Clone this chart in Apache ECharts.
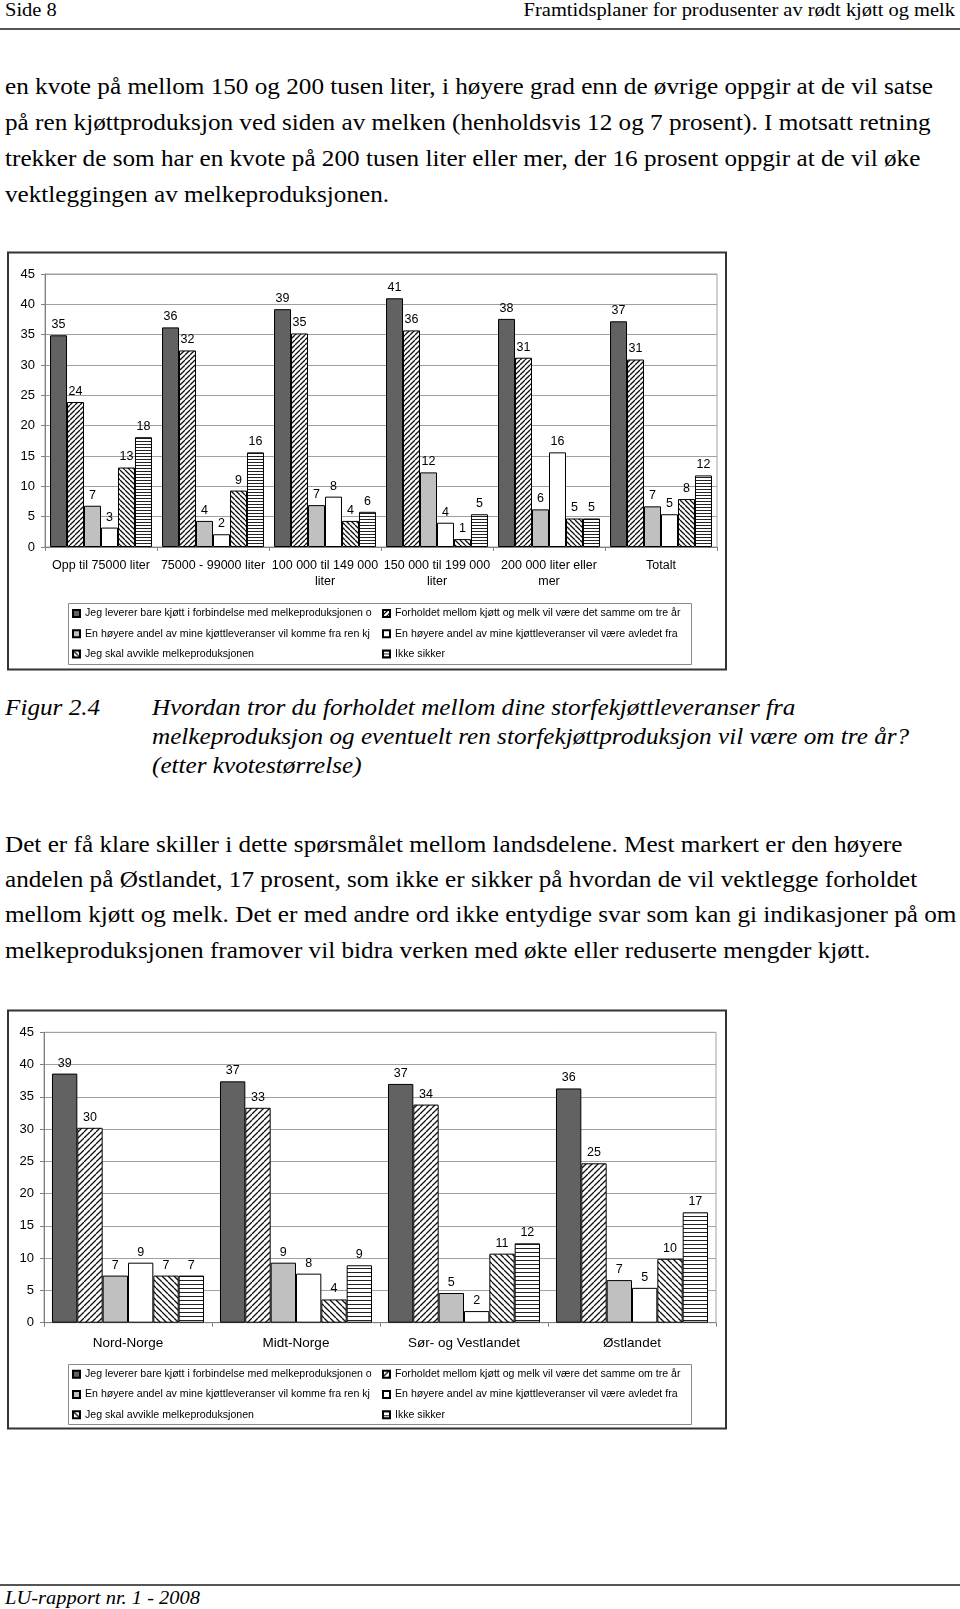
<!DOCTYPE html>
<html><head><meta charset="utf-8">
<script src="https://cdn.jsdelivr.net/npm/echarts@6/dist/echarts.min.js"></script>
<style>
html,body{margin:0;padding:0;background:#fff;}
body{width:960px;height:1609px;position:relative;overflow:hidden;font-family:"Liberation Serif","Times New Roman",Tinos,serif;color:#000;}
.t{position:absolute;white-space:nowrap;transform-origin:0 50%;line-height:30px;height:30px;font-size:24px;}
.r{transform-origin:100% 50%;}
.i{font-style:italic;}
.s18{font-size:19.5px;}
.hr{position:absolute;left:0;width:960px;height:0;border-top:2px solid #555;}
.chart{position:absolute;left:0;width:740px;height:440px;}
</style></head><body>
<div class="t s18" style="left:5px;top:-5px;">Side 8</div>
<div class="t s18 r" style="right:5px;top:-5px;">Framtidsplaner for produsenter av rødt kjøtt og melk</div>
<div class="hr" style="top:28px;"></div>

<div class="t" id="ref" style="left:5px;top:71px;">en kvote på mellom 150 og 200 tusen liter, i høyere grad enn de øvrige oppgir at de vil satse</div>
<div class="t" style="left:5px;top:107px;">på ren kjøttproduksjon ved siden av melken (henholdsvis 12 og 7 prosent). I motsatt retning</div>
<div class="t" style="left:5px;top:143px;">trekker de som har en kvote på 200 tusen liter eller mer, der 16 prosent oppgir at de vil øke</div>
<div class="t" style="left:5px;top:179px;">vektleggingen av melkeproduksjonen.</div>

<div id="c1" class="chart" style="top:240px;"></div>

<div class="t i" style="left:5px;top:692px;">Figur 2.4</div>
<div class="t i" style="left:152px;top:692px;">Hvordan tror du forholdet mellom dine storfekjøttleveranser fra</div>
<div class="t i" style="left:152px;top:721px;">melkeproduksjon og eventuelt ren storfekjøttproduksjon vil være om tre år?</div>
<div class="t i" style="left:152px;top:750px;">(etter kvotestørrelse)</div>

<div class="t" style="left:5px;top:829px;">Det er få klare skiller i dette spørsmålet mellom landsdelene. Mest markert er den høyere</div>
<div class="t" style="left:5px;top:864px;">andelen på Østlandet, 17 prosent, som ikke er sikker på hvordan de vil vektlegge forholdet</div>
<div class="t" style="left:5px;top:899px;">mellom kjøtt og melk. Det er med andre ord ikke entydige svar som kan gi indikasjoner på om</div>
<div class="t" style="left:5px;top:935px;">melkeproduksjonen framover vil bidra verken med økte eller reduserte mengder kjøtt.</div>

<div id="c2" class="chart" style="top:1000px;"></div>

<div class="hr" style="top:1584px;"></div>
<div class="t s18 i" style="left:5px;top:1583px;">LU-rapport nr. 1 - 2008</div>

<script>
// ---------- data ----------
const legendNames = [
  'Jeg leverer bare kjøtt i forbindelse med melkeproduksjonen o',
  'Forholdet mellom kjøtt og melk vil være det samme om tre år',
  'En høyere andel av mine kjøttleveranser vil komme fra ren kj',
  'En høyere andel av mine kjøttleveranser vil være avledet fra',
  'Jeg skal avvikle melkeproduksjonen',
  'Ikke sikker'
];
const yTicks = [0, 5, 10, 15, 20, 25, 30, 35, 40, 45];

const groups1 = ['Opp til 75000 liter', '75000 - 99000 liter', '100 000 til 149 000\nliter', '150 000 til 199 000\nliter', '200 000 liter eller\nmer', 'Totalt'];
const c1_s1 = [34.9, 36.2, 39.2, 41.0, 37.6, 37.2];
const c1_s2 = [23.9, 32.4, 35.2, 35.7, 31.2, 30.9];
const c1_s3 = [6.8, 4.3, 6.9, 12.3, 6.2, 6.7];
const c1_s4 = [3.2, 2.1, 8.3, 4.0, 15.6, 5.4];
const c1_s5 = [13.1, 9.3, 4.3, 1.3, 4.7, 7.9];
const c1_s6 = [18.1, 15.6, 5.8, 5.4, 4.7, 11.8];

const groups2 = ['Nord-Norge', 'Midt-Norge', 'Sør- og Vestlandet', 'Østlandet'];
const c2_s1 = [38.6, 37.4, 37.0, 36.3];
const c2_s2 = [30.2, 33.3, 33.8, 24.7];
const c2_s3 = [7.3, 9.3, 4.6, 6.6];
const c2_s4 = [9.3, 7.6, 1.8, 5.4];
const c2_s5 = [7.3, 3.6, 10.7, 9.9];
const c2_s6 = [7.3, 8.9, 12.3, 17.1];

// ---------- page text scaling ----------
const refEl = document.getElementById('ref');
const k = 928 / refEl.getBoundingClientRect().width;
document.querySelectorAll('.t').forEach(e => { e.style.transform = 'scaleX(' + k + ')'; });

// ---------- patterns ----------
function hatch(size, dir, lw) {
  const c = document.createElement('canvas'); c.width = size; c.height = size;
  const g = c.getContext('2d');
  g.fillStyle = '#fff'; g.fillRect(0, 0, size, size);
  g.strokeStyle = '#111'; g.lineWidth = lw;
  for (let j = -1; j <= 1; j++) {
    g.beginPath();
    if (dir === '/') { g.moveTo(j * size, size); g.lineTo(j * size + size, 0); }
    else { g.moveTo(j * size, 0); g.lineTo(j * size + size, size); }
    g.stroke();
  }
  return { image: c, repeat: 'repeat' };
}
function hlines(h) {
  const c = document.createElement('canvas'); c.width = 4; c.height = h;
  const g = c.getContext('2d');
  g.fillStyle = '#fff'; g.fillRect(0, 0, 4, h);
  g.fillStyle = '#222'; g.fillRect(0, 0, 4, 1);
  return { image: c, repeat: 'repeat' };
}

const FONT = "'Liberation Sans', Arial, sans-serif";

function buildOption(cfg) {
  const fills = [
    '#626262',
    hatch(cfg.hatch, '/', 1.3),
    '#c0c0c0',
    '#ffffff',
    hatch(cfg.hatch, '\\', 1.3),
    hlines(cfg.hl)
  ];
  const series = cfg.data.map((d, i) => ({
    type: 'bar', name: legendNames[i], data: d,
    barGap: '0%', barCategoryGap: cfg.catGap,
    itemStyle: { color: fills[i], borderColor: '#000', borderWidth: 1 },
    label: { show: true, position: 'top', distance: 4, color: '#000', fontSize: 12.5, fontFamily: FONT,
      formatter: p => String(Math.round(p.value)) },
    emphasis: { disabled: true }
  }));
  const pos = [[72, 0], [382, 0], [72, 1], [382, 1], [72, 2], [382, 2]];
  const legends = legendNames.map((n, i) => ({
    data: [n], left: pos[i][0], top: cfg.legRow0 + pos[i][1] * 20.2 - 6,
    itemWidth: 7, itemHeight: 7, icon: 'rect', padding: 0, itemGap: 0, selectedMode: false,
    textStyle: { fontSize: 10.6, fontFamily: FONT, color: '#000', lineHeight: 12 }
  }));
  return {
    animation: false,
    textStyle: { fontFamily: FONT },
    graphic: [
      { type: 'rect', shape: { x: 8, y: cfg.frameY, width: 718, height: cfg.frameH },
        style: { fill: null, stroke: '#333', lineWidth: 2 }, silent: true },
      { type: 'rect', shape: { x: 68.5, y: cfg.legBoxY, width: 623, height: cfg.legBoxH },
        style: { fill: null, stroke: '#8a8a8a', lineWidth: 1 }, silent: true }
    ],
    grid: { left: cfg.gridLeft, top: cfg.gridTop, width: 672, height: cfg.gridH, show: true,
      borderColor: '#a0a0a0', borderWidth: 1, containLabel: false },
    xAxis: {
      type: 'category', data: cfg.cats,
      axisLine: { lineStyle: { color: '#808080', width: 1 } },
      axisTick: { show: true, length: 4, lineStyle: { color: '#808080' } },
      axisLabel: { interval: 0, color: '#000', fontSize: cfg.xFont, fontFamily: FONT, margin: cfg.xMargin, lineHeight: 16.5 },
      splitLine: { show: false }
    },
    yAxis: {
      type: 'value', min: yTicks[0], max: yTicks[yTicks.length - 1], interval: yTicks[1] - yTicks[0],
      axisLine: { show: true, lineStyle: { color: '#808080' } },
      axisTick: { show: true, length: 4, lineStyle: { color: '#808080' } },
      axisLabel: { color: '#000', fontSize: 13, fontFamily: FONT, margin: 10 },
      splitLine: { lineStyle: { color: '#a0a0a0', width: 1 } }
    },
    legend: legends,
    series: series
  };
}

const ch1 = echarts.init(document.getElementById('c1'), null, { renderer: 'canvas' });
ch1.setOption(buildOption({
  cats: groups1, data: [c1_s1, c1_s2, c1_s3, c1_s4, c1_s5, c1_s6],
  catGap: '9%', hatch: 5, hl: 3,
  frameY: 12.5, frameH: 417, legBoxY: 363.5, legBoxH: 61, legRow0: 373.5,
  gridLeft: 45, gridTop: 34, gridH: 273, xFont: 12.5, xMargin: 10
}));

const ch2 = echarts.init(document.getElementById('c2'), null, { renderer: 'canvas' });
ch2.setOption(buildOption({
  cats: groups2, data: [c2_s1, c2_s2, c2_s3, c2_s4, c2_s5, c2_s6],
  catGap: '9.5%', hatch: 6, hl: 4,
  frameY: 10.5, frameH: 418, legBoxY: 364.5, legBoxH: 60, legRow0: 374.3,
  gridLeft: 44, gridTop: 32.3, gridH: 290.4, xFont: 13.5, xMargin: 12.5
}));
</script>
</body></html>
